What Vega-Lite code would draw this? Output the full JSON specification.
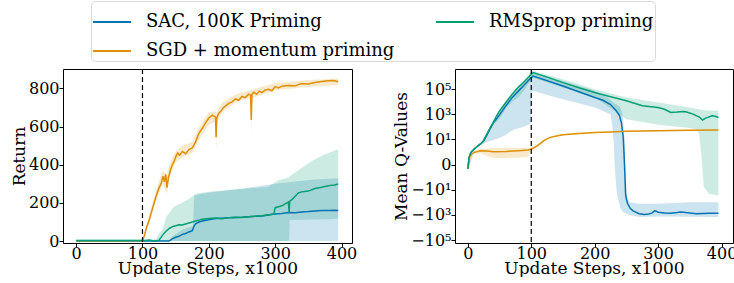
{
  "$schema": "https://vega.github.io/schema/vega-lite/v6.json",
  "padding": {"left": 9, "top": 0, "right": 0, "bottom": 0},
  "spacing": 34,
  "datasets": {
    "retLine": [
      {"s":"SAC, 100K Priming","x":0,"m":1},{"s":"SAC, 100K Priming","x":100,"m":1},{"s":"SAC, 100K Priming","x":140,"m":1},{"s":"SAC, 100K Priming","x":142,"m":5},{"s":"SAC, 100K Priming","x":145,"m":12},{"s":"SAC, 100K Priming","x":150,"m":20},{"s":"SAC, 100K Priming","x":155,"m":25},{"s":"SAC, 100K Priming","x":160,"m":35},{"s":"SAC, 100K Priming","x":165,"m":40},{"s":"SAC, 100K Priming","x":170,"m":48},{"s":"SAC, 100K Priming","x":175,"m":55},{"s":"SAC, 100K Priming","x":178,"m":80},{"s":"SAC, 100K Priming","x":180,"m":90},{"s":"SAC, 100K Priming","x":185,"m":100},{"s":"SAC, 100K Priming","x":190,"m":105},{"s":"SAC, 100K Priming","x":200,"m":112},{"s":"SAC, 100K Priming","x":210,"m":118},{"s":"SAC, 100K Priming","x":220,"m":120},{"s":"SAC, 100K Priming","x":230,"m":122},{"s":"SAC, 100K Priming","x":240,"m":124},{"s":"SAC, 100K Priming","x":250,"m":125},{"s":"SAC, 100K Priming","x":260,"m":127},{"s":"SAC, 100K Priming","x":270,"m":130},{"s":"SAC, 100K Priming","x":280,"m":132},{"s":"SAC, 100K Priming","x":290,"m":137},{"s":"SAC, 100K Priming","x":300,"m":142},{"s":"SAC, 100K Priming","x":310,"m":145},{"s":"SAC, 100K Priming","x":320,"m":150},{"s":"SAC, 100K Priming","x":330,"m":148},{"s":"SAC, 100K Priming","x":340,"m":153},{"s":"SAC, 100K Priming","x":350,"m":155},{"s":"SAC, 100K Priming","x":360,"m":158},{"s":"SAC, 100K Priming","x":370,"m":160},{"s":"SAC, 100K Priming","x":380,"m":160},{"s":"SAC, 100K Priming","x":390,"m":162},{"s":"SAC, 100K Priming","x":395,"m":160},
      {"s":"SGD + momentum priming","x":0,"m":2},{"s":"SGD + momentum priming","x":100,"m":2},{"s":"SGD + momentum priming","x":103,"m":30},{"s":"SGD + momentum priming","x":106,"m":70},{"s":"SGD + momentum priming","x":110,"m":110},{"s":"SGD + momentum priming","x":115,"m":170},{"s":"SGD + momentum priming","x":120,"m":230},{"s":"SGD + momentum priming","x":125,"m":280},{"s":"SGD + momentum priming","x":128,"m":300},{"s":"SGD + momentum priming","x":131,"m":340},{"s":"SGD + momentum priming","x":133,"m":310},{"s":"SGD + momentum priming","x":135,"m":350},{"s":"SGD + momentum priming","x":137,"m":280},{"s":"SGD + momentum priming","x":139,"m":330},{"s":"SGD + momentum priming","x":142,"m":370},{"s":"SGD + momentum priming","x":145,"m":400},{"s":"SGD + momentum priming","x":148,"m":420},{"s":"SGD + momentum priming","x":150,"m":440},{"s":"SGD + momentum priming","x":153,"m":462},{"s":"SGD + momentum priming","x":156,"m":450},{"s":"SGD + momentum priming","x":160,"m":470},{"s":"SGD + momentum priming","x":165,"m":458},{"s":"SGD + momentum priming","x":170,"m":480},{"s":"SGD + momentum priming","x":175,"m":488},{"s":"SGD + momentum priming","x":180,"m":520},{"s":"SGD + momentum priming","x":185,"m":565},{"s":"SGD + momentum priming","x":190,"m":590},{"s":"SGD + momentum priming","x":195,"m":620},{"s":"SGD + momentum priming","x":200,"m":645},{"s":"SGD + momentum priming","x":205,"m":660},{"s":"SGD + momentum priming","x":210,"m":650},{"s":"SGD + momentum priming","x":211,"m":545},{"s":"SGD + momentum priming","x":212,"m":645},{"s":"SGD + momentum priming","x":215,"m":670},{"s":"SGD + momentum priming","x":218,"m":680},{"s":"SGD + momentum priming","x":222,"m":700},{"s":"SGD + momentum priming","x":226,"m":710},{"s":"SGD + momentum priming","x":230,"m":722},{"s":"SGD + momentum priming","x":235,"m":730},{"s":"SGD + momentum priming","x":240,"m":745},{"s":"SGD + momentum priming","x":245,"m":738},{"s":"SGD + momentum priming","x":250,"m":758},{"s":"SGD + momentum priming","x":255,"m":752},{"s":"SGD + momentum priming","x":260,"m":770},{"s":"SGD + momentum priming","x":263,"m":765},{"s":"SGD + momentum priming","x":264,"m":635},{"s":"SGD + momentum priming","x":265,"m":770},{"s":"SGD + momentum priming","x":268,"m":780},{"s":"SGD + momentum priming","x":272,"m":770},{"s":"SGD + momentum priming","x":276,"m":786},{"s":"SGD + momentum priming","x":280,"m":778},{"s":"SGD + momentum priming","x":285,"m":792},{"s":"SGD + momentum priming","x":290,"m":796},{"s":"SGD + momentum priming","x":295,"m":788},{"s":"SGD + momentum priming","x":300,"m":810},{"s":"SGD + momentum priming","x":305,"m":803},{"s":"SGD + momentum priming","x":310,"m":812},{"s":"SGD + momentum priming","x":320,"m":815},{"s":"SGD + momentum priming","x":330,"m":814},{"s":"SGD + momentum priming","x":340,"m":826},{"s":"SGD + momentum priming","x":350,"m":823},{"s":"SGD + momentum priming","x":360,"m":831},{"s":"SGD + momentum priming","x":370,"m":836},{"s":"SGD + momentum priming","x":380,"m":840},{"s":"SGD + momentum priming","x":388,"m":842},{"s":"SGD + momentum priming","x":395,"m":835},
      {"s":"RMSprop priming","x":0,"m":3},{"s":"RMSprop priming","x":100,"m":3},{"s":"RMSprop priming","x":105,"m":3},{"s":"RMSprop priming","x":110,"m":6},{"s":"RMSprop priming","x":115,"m":2},{"s":"RMSprop priming","x":120,"m":1},{"s":"RMSprop priming","x":125,"m":5},{"s":"RMSprop priming","x":130,"m":30},{"s":"RMSprop priming","x":135,"m":50},{"s":"RMSprop priming","x":140,"m":65},{"s":"RMSprop priming","x":145,"m":75},{"s":"RMSprop priming","x":150,"m":80},{"s":"RMSprop priming","x":155,"m":86},{"s":"RMSprop priming","x":160,"m":84},{"s":"RMSprop priming","x":165,"m":90},{"s":"RMSprop priming","x":170,"m":95},{"s":"RMSprop priming","x":175,"m":100},{"s":"RMSprop priming","x":180,"m":105},{"s":"RMSprop priming","x":185,"m":110},{"s":"RMSprop priming","x":190,"m":115},{"s":"RMSprop priming","x":200,"m":118},{"s":"RMSprop priming","x":210,"m":121},{"s":"RMSprop priming","x":220,"m":117},{"s":"RMSprop priming","x":230,"m":123},{"s":"RMSprop priming","x":240,"m":125},{"s":"RMSprop priming","x":250,"m":124},{"s":"RMSprop priming","x":260,"m":128},{"s":"RMSprop priming","x":270,"m":130},{"s":"RMSprop priming","x":280,"m":133},{"s":"RMSprop priming","x":290,"m":138},{"s":"RMSprop priming","x":298,"m":142},{"s":"RMSprop priming","x":300,"m":175},{"s":"RMSprop priming","x":305,"m":180},{"s":"RMSprop priming","x":310,"m":185},{"s":"RMSprop priming","x":315,"m":195},{"s":"RMSprop priming","x":320,"m":205},{"s":"RMSprop priming","x":321,"m":150},{"s":"RMSprop priming","x":322,"m":210},{"s":"RMSprop priming","x":326,"m":220},{"s":"RMSprop priming","x":330,"m":235},{"s":"RMSprop priming","x":335,"m":252},{"s":"RMSprop priming","x":340,"m":258},{"s":"RMSprop priming","x":350,"m":262},{"s":"RMSprop priming","x":360,"m":276},{"s":"RMSprop priming","x":370,"m":282},{"s":"RMSprop priming","x":380,"m":290},{"s":"RMSprop priming","x":390,"m":294},{"s":"RMSprop priming","x":395,"m":300}
    ],
    "retBand": [
      {"g":"SAC, 100K Priming","x":0,"lo":0,"hi":3},{"g":"SAC, 100K Priming","x":140,"lo":0,"hi":3},{"g":"SAC, 100K Priming","x":145,"lo":0,"hi":25},{"g":"SAC, 100K Priming","x":160,"lo":0,"hi":60},{"g":"SAC, 100K Priming","x":176,"lo":0,"hi":80},{"g":"SAC, 100K Priming","x":178,"lo":0,"hi":240},{"g":"SAC, 100K Priming","x":200,"lo":0,"hi":255},{"g":"SAC, 100K Priming","x":250,"lo":0,"hi":275},{"g":"SAC, 100K Priming","x":300,"lo":0,"hi":300},{"g":"SAC, 100K Priming","x":350,"lo":0,"hi":320},{"g":"SAC, 100K Priming","x":395,"lo":0,"hi":330},
      {"g":"SGD + momentum priming","x":0,"lo":0,"hi":5},{"g":"SGD + momentum priming","x":100,"lo":0,"hi":5},{"g":"SGD + momentum priming","x":110,"lo":90,"hi":130},{"g":"SGD + momentum priming","x":120,"lo":200,"hi":260},{"g":"SGD + momentum priming","x":130,"lo":300,"hi":370},{"g":"SGD + momentum priming","x":137,"lo":250,"hi":340},{"g":"SGD + momentum priming","x":140,"lo":330,"hi":400},{"g":"SGD + momentum priming","x":150,"lo":410,"hi":470},{"g":"SGD + momentum priming","x":160,"lo":440,"hi":500},{"g":"SGD + momentum priming","x":175,"lo":460,"hi":520},{"g":"SGD + momentum priming","x":185,"lo":530,"hi":595},{"g":"SGD + momentum priming","x":200,"lo":610,"hi":675},{"g":"SGD + momentum priming","x":210,"lo":625,"hi":680},{"g":"SGD + momentum priming","x":211,"lo":470,"hi":670},{"g":"SGD + momentum priming","x":212,"lo":615,"hi":675},{"g":"SGD + momentum priming","x":220,"lo":675,"hi":725},{"g":"SGD + momentum priming","x":240,"lo":725,"hi":768},{"g":"SGD + momentum priming","x":250,"lo":740,"hi":780},{"g":"SGD + momentum priming","x":263,"lo":750,"hi":790},{"g":"SGD + momentum priming","x":264,"lo":560,"hi":790},{"g":"SGD + momentum priming","x":265,"lo":745,"hi":792},{"g":"SGD + momentum priming","x":270,"lo":755,"hi":798},{"g":"SGD + momentum priming","x":300,"lo":790,"hi":828},{"g":"SGD + momentum priming","x":350,"lo":808,"hi":845},{"g":"SGD + momentum priming","x":395,"lo":818,"hi":852},
      {"g":"RMSprop priming","x":0,"lo":0,"hi":8},{"g":"RMSprop priming","x":100,"lo":0,"hi":8},{"g":"RMSprop priming","x":120,"lo":0,"hi":10},{"g":"RMSprop priming","x":125,"lo":0,"hi":40},{"g":"RMSprop priming","x":130,"lo":0,"hi":60},{"g":"RMSprop priming","x":136,"lo":0,"hi":127},{"g":"RMSprop priming","x":147,"lo":0,"hi":180},{"g":"RMSprop priming","x":167,"lo":0,"hi":214},{"g":"RMSprop priming","x":182,"lo":0,"hi":249},{"g":"RMSprop priming","x":200,"lo":0,"hi":258},{"g":"RMSprop priming","x":250,"lo":0,"hi":275},{"g":"RMSprop priming","x":289,"lo":0,"hi":283},{"g":"RMSprop priming","x":304,"lo":0,"hi":318},{"g":"RMSprop priming","x":321,"lo":0,"hi":335},{"g":"RMSprop priming","x":322,"lo":110,"hi":340},{"g":"RMSprop priming","x":355,"lo":113,"hi":420},{"g":"RMSprop priming","x":375,"lo":115,"hi":455},{"g":"RMSprop priming","x":395,"lo":117,"hi":482}
    ],
    "qLine": [
      {"s":"SAC, 100K Priming","x":0,"m":-0.12},{"s":"SAC, 100K Priming","x":2,"m":0.28},{"s":"SAC, 100K Priming","x":5,"m":0.85},{"s":"SAC, 100K Priming","x":10,"m":1.65},{"s":"SAC, 100K Priming","x":15,"m":2.8},{"s":"SAC, 100K Priming","x":20,"m":4.3},{"s":"SAC, 100K Priming","x":25,"m":7.5},{"s":"SAC, 100K Priming","x":30,"m":22},{"s":"SAC, 100K Priming","x":35,"m":70},{"s":"SAC, 100K Priming","x":40,"m":200},{"s":"SAC, 100K Priming","x":50,"m":900},{"s":"SAC, 100K Priming","x":60,"m":4700},{"s":"SAC, 100K Priming","x":70,"m":22000},{"s":"SAC, 100K Priming","x":80,"m":73000},{"s":"SAC, 100K Priming","x":90,"m":250000},{"s":"SAC, 100K Priming","x":100,"m":830000},{"s":"SAC, 100K Priming","x":103,"m":1100000},{"s":"SAC, 100K Priming","x":150,"m":180000},{"s":"SAC, 100K Priming","x":200,"m":22000},{"s":"SAC, 100K Priming","x":213,"m":13000},{"s":"SAC, 100K Priming","x":225,"m":6000},{"s":"SAC, 100K Priming","x":234,"m":1900},{"s":"SAC, 100K Priming","x":239,"m":800},{"s":"SAC, 100K Priming","x":242,"m":225},{"s":"SAC, 100K Priming","x":245,"m":15},{"s":"SAC, 100K Priming","x":247,"m":0},{"s":"SAC, 100K Priming","x":248.7,"m":-21},{"s":"SAC, 100K Priming","x":250,"m":-60},{"s":"SAC, 100K Priming","x":252,"m":-130},{"s":"SAC, 100K Priming","x":256,"m":-300},{"s":"SAC, 100K Priming","x":260,"m":-450},{"s":"SAC, 100K Priming","x":270,"m":-800},{"s":"SAC, 100K Priming","x":278,"m":-920},{"s":"SAC, 100K Priming","x":285,"m":-850},{"s":"SAC, 100K Priming","x":290,"m":-720},{"s":"SAC, 100K Priming","x":295,"m":-450},{"s":"SAC, 100K Priming","x":300,"m":-600},{"s":"SAC, 100K Priming","x":310,"m":-700},{"s":"SAC, 100K Priming","x":320,"m":-720},{"s":"SAC, 100K Priming","x":330,"m":-650},{"s":"SAC, 100K Priming","x":335,"m":-580},{"s":"SAC, 100K Priming","x":340,"m":-600},{"s":"SAC, 100K Priming","x":350,"m":-700},{"s":"SAC, 100K Priming","x":360,"m":-800},{"s":"SAC, 100K Priming","x":370,"m":-780},{"s":"SAC, 100K Priming","x":380,"m":-750},{"s":"SAC, 100K Priming","x":395,"m":-720},
      {"s":"SGD + momentum priming","x":0,"m":-0.12},{"s":"SGD + momentum priming","x":3,"m":0.28},{"s":"SGD + momentum priming","x":6,"m":0.6},{"s":"SGD + momentum priming","x":10,"m":0.85},{"s":"SGD + momentum priming","x":20,"m":1.19},{"s":"SGD + momentum priming","x":30,"m":1.1},{"s":"SGD + momentum priming","x":40,"m":0.97},{"s":"SGD + momentum priming","x":60,"m":1.03},{"s":"SGD + momentum priming","x":80,"m":1.19},{"s":"SGD + momentum priming","x":95,"m":1.36},{"s":"SGD + momentum priming","x":100,"m":1.65},{"s":"SGD + momentum priming","x":105,"m":2.2},{"s":"SGD + momentum priming","x":110,"m":3.1},{"s":"SGD + momentum priming","x":115,"m":5},{"s":"SGD + momentum priming","x":120,"m":7.9},{"s":"SGD + momentum priming","x":125,"m":11},{"s":"SGD + momentum priming","x":130,"m":14.6},{"s":"SGD + momentum priming","x":140,"m":19},{"s":"SGD + momentum priming","x":150,"m":24},{"s":"SGD + momentum priming","x":175,"m":30},{"s":"SGD + momentum priming","x":200,"m":36},{"s":"SGD + momentum priming","x":225,"m":40},{"s":"SGD + momentum priming","x":250,"m":44},{"s":"SGD + momentum priming","x":275,"m":47},{"s":"SGD + momentum priming","x":300,"m":49.5},{"s":"SGD + momentum priming","x":350,"m":55},{"s":"SGD + momentum priming","x":395,"m":56},
      {"s":"RMSprop priming","x":0,"m":-0.12},{"s":"RMSprop priming","x":2,"m":0.28},{"s":"RMSprop priming","x":5,"m":0.85},{"s":"RMSprop priming","x":10,"m":1.65},{"s":"RMSprop priming","x":15,"m":2.8},{"s":"RMSprop priming","x":20,"m":4.3},{"s":"RMSprop priming","x":25,"m":7.9},{"s":"RMSprop priming","x":30,"m":27},{"s":"RMSprop priming","x":35,"m":80},{"s":"RMSprop priming","x":40,"m":225},{"s":"RMSprop priming","x":45,"m":700},{"s":"RMSprop priming","x":50,"m":1900},{"s":"RMSprop priming","x":55,"m":4000},{"s":"RMSprop priming","x":60,"m":8700},{"s":"RMSprop priming","x":65,"m":19000},{"s":"RMSprop priming","x":70,"m":40000},{"s":"RMSprop priming","x":75,"m":80000},{"s":"RMSprop priming","x":80,"m":150000},{"s":"RMSprop priming","x":85,"m":260000},{"s":"RMSprop priming","x":90,"m":450000},{"s":"RMSprop priming","x":95,"m":800000},{"s":"RMSprop priming","x":100,"m":1500000},{"s":"RMSprop priming","x":103,"m":2100000},{"s":"RMSprop priming","x":125,"m":900000},{"s":"RMSprop priming","x":150,"m":330000},{"s":"RMSprop priming","x":175,"m":130000},{"s":"RMSprop priming","x":200,"m":54000},{"s":"RMSprop priming","x":225,"m":25000},{"s":"RMSprop priming","x":250,"m":12000},{"s":"RMSprop priming","x":275,"m":4750},{"s":"RMSprop priming","x":300,"m":3500},{"s":"RMSprop priming","x":310,"m":2500},{"s":"RMSprop priming","x":320,"m":1400},{"s":"RMSprop priming","x":330,"m":1500},{"s":"RMSprop priming","x":340,"m":1700},{"s":"RMSprop priming","x":345,"m":1500},{"s":"RMSprop priming","x":355,"m":1040},{"s":"RMSprop priming","x":365,"m":600},{"s":"RMSprop priming","x":370,"m":350},{"s":"RMSprop priming","x":375,"m":500},{"s":"RMSprop priming","x":385,"m":765},{"s":"RMSprop priming","x":390,"m":700},{"s":"RMSprop priming","x":395,"m":560}
    ],
    "qBand": [
      {"g":"SAC, 100K Priming","x":0,"lo":-0.15,"hi":-0.1},{"g":"SAC, 100K Priming","x":10,"lo":1.4,"hi":1.9},{"g":"SAC, 100K Priming","x":20,"lo":3.5,"hi":5},{"g":"SAC, 100K Priming","x":30,"lo":5.8,"hi":30},{"g":"SAC, 100K Priming","x":40,"lo":9,"hi":250},{"g":"SAC, 100K Priming","x":50,"lo":13,"hi":2000},{"g":"SAC, 100K Priming","x":60,"lo":24,"hi":9000},{"g":"SAC, 100K Priming","x":68,"lo":44,"hi":30000},{"g":"SAC, 100K Priming","x":75,"lo":67,"hi":80000},{"g":"SAC, 100K Priming","x":85,"lo":90,"hi":260000},{"g":"SAC, 100K Priming","x":99,"lo":167,"hi":1500000},{"g":"SAC, 100K Priming","x":101,"lo":54000,"hi":2000000},{"g":"SAC, 100K Priming","x":103,"lo":70000,"hi":2100000},{"g":"SAC, 100K Priming","x":150,"lo":16000,"hi":450000},{"g":"SAC, 100K Priming","x":200,"lo":3500,"hi":73000},{"g":"SAC, 100K Priming","x":225,"lo":1000,"hi":15000},{"g":"SAC, 100K Priming","x":228,"lo":100,"hi":10000},{"g":"SAC, 100K Priming","x":230,"lo":4.3,"hi":8000},{"g":"SAC, 100K Priming","x":232,"lo":-0.2,"hi":7000},{"g":"SAC, 100K Priming","x":235,"lo":-21,"hi":6000},{"g":"SAC, 100K Priming","x":240,"lo":-242,"hi":4000},{"g":"SAC, 100K Priming","x":244,"lo":-500,"hi":1000},{"g":"SAC, 100K Priming","x":245,"lo":-600,"hi":300},{"g":"SAC, 100K Priming","x":247,"lo":-700,"hi":10},{"g":"SAC, 100K Priming","x":248,"lo":-750,"hi":0},{"g":"SAC, 100K Priming","x":250,"lo":-810,"hi":-21},{"g":"SAC, 100K Priming","x":255,"lo":-1000,"hi":-96},{"g":"SAC, 100K Priming","x":270,"lo":-1490,"hi":-130},{"g":"SAC, 100K Priming","x":300,"lo":-1300,"hi":-130},{"g":"SAC, 100K Priming","x":350,"lo":-1400,"hi":-96},{"g":"SAC, 100K Priming","x":395,"lo":-1490,"hi":-96},
      {"g":"SGD + momentum priming","x":0,"lo":-0.15,"hi":-0.1},{"g":"SGD + momentum priming","x":10,"lo":0.6,"hi":1.1},{"g":"SGD + momentum priming","x":20,"lo":0.7,"hi":1.6},{"g":"SGD + momentum priming","x":30,"lo":0.4,"hi":1.9},{"g":"SGD + momentum priming","x":40,"lo":0.24,"hi":2.0},{"g":"SGD + momentum priming","x":60,"lo":0.24,"hi":2.0},{"g":"SGD + momentum priming","x":80,"lo":0.26,"hi":2.0},{"g":"SGD + momentum priming","x":95,"lo":0.3,"hi":2.0},{"g":"SGD + momentum priming","x":100,"lo":1.2,"hi":2.2},{"g":"SGD + momentum priming","x":105,"lo":2.0,"hi":2.5},{"g":"SGD + momentum priming","x":110,"lo":2.8,"hi":3.4},{"g":"SGD + momentum priming","x":120,"lo":7,"hi":9},{"g":"SGD + momentum priming","x":130,"lo":13.5,"hi":16},{"g":"SGD + momentum priming","x":150,"lo":22,"hi":26},{"g":"SGD + momentum priming","x":200,"lo":34,"hi":38},{"g":"SGD + momentum priming","x":250,"lo":42,"hi":46},{"g":"SGD + momentum priming","x":300,"lo":47,"hi":52},{"g":"SGD + momentum priming","x":350,"lo":53,"hi":57},{"g":"SGD + momentum priming","x":395,"lo":54,"hi":58},
      {"g":"RMSprop priming","x":0,"lo":-0.15,"hi":-0.1},{"g":"RMSprop priming","x":10,"lo":1.4,"hi":1.9},{"g":"RMSprop priming","x":20,"lo":3.5,"hi":5},{"g":"RMSprop priming","x":30,"lo":15,"hi":35},{"g":"RMSprop priming","x":40,"lo":150,"hi":300},{"g":"RMSprop priming","x":50,"lo":418,"hi":2500},{"g":"RMSprop priming","x":60,"lo":3000,"hi":12000},{"g":"RMSprop priming","x":70,"lo":10000,"hi":50000},{"g":"RMSprop priming","x":80,"lo":22000,"hi":200000},{"g":"RMSprop priming","x":90,"lo":100000,"hi":600000},{"g":"RMSprop priming","x":100,"lo":620000,"hi":2500000},{"g":"RMSprop priming","x":103,"lo":800000,"hi":2800000},{"g":"RMSprop priming","x":150,"lo":130000,"hi":620000},{"g":"RMSprop priming","x":200,"lo":22000,"hi":100000},{"g":"RMSprop priming","x":250,"lo":400,"hi":22000},{"g":"RMSprop priming","x":300,"lo":150,"hi":8700},{"g":"RMSprop priming","x":350,"lo":80,"hi":3500},{"g":"RMSprop priming","x":362,"lo":60,"hi":2700},{"g":"RMSprop priming","x":365,"lo":20,"hi":2500},{"g":"RMSprop priming","x":368,"lo":0.6,"hi":2300},{"g":"RMSprop priming","x":372,"lo":-6,"hi":2100},{"g":"RMSprop priming","x":380,"lo":-21,"hi":2000},{"g":"RMSprop priming","x":395,"lo":-29,"hi":1900}
    ]
  },
  "hconcat": [
    {
      "width": 289, "height": 174,
      "layer": [
        {
          "data": {"name": "retBand"},
          "mark": {"type": "area", "opacity": 0.2},
          "encoding": {
            "x": {"field": "x", "type": "quantitative"},
            "y": {"field": "lo", "type": "quantitative"},
            "y2": {"field": "hi"},
            "fill": {"field": "g", "type": "nominal", "legend": null, "scale": {"range": ["#029e73", "#0173b2", "#de8f05"]}}
          }
        },
        {
          "data": {"name": "retLine"},
          "mark": {"type": "line", "strokeWidth": 1.5},
          "encoding": {
            "x": {"field": "x", "type": "quantitative", "scale": {"domain": [-19.8, 415.8], "nice": false, "zero": false}, "axis": {"values": [0, 100, 200, 300, 400], "title": "Update Steps, x1000"}},
            "y": {"field": "m", "type": "quantitative", "scale": {"domain": [-10, 902], "nice": false, "zero": false}, "axis": {"values": [0, 200, 400, 600, 800], "title": "Return"}},
            "color": {"field": "s", "type": "nominal", "scale": {"domain": ["SAC, 100K Priming", "RMSprop priming", "SGD + momentum priming"], "range": ["#0173b2", "#029e73", "#de8f05"]},
              "legend": {"orient": "none", "legendX": 28, "legendY": -68, "columns": 2, "direction": "horizontal", "title": null, "symbolType": "stroke", "symbolSize": 1444, "symbolStrokeWidth": 2, "labelFont": "DejaVu Serif", "labelFontSize": 18, "labelColor": "black", "labelLimit": 400, "labelOffset": 14, "fillColor": "white", "strokeColor": "#d9d9d9", "cornerRadius": 4, "padding": 1, "rowPadding": -2, "columnPadding": 37}}
          }
        },
        {
          "data": {"values": [{}]},
          "mark": {"type": "rule", "color": "black", "strokeDash": [5, 3], "strokeWidth": 1.2},
          "encoding": {"x": {"datum": 100}}
        }
      ]
    },
    {
      "width": 278, "height": 174,
      "layer": [
        {
          "data": {"name": "qBand"},
          "mark": {"type": "area", "opacity": 0.2},
          "encoding": {
            "x": {"field": "x", "type": "quantitative"},
            "y": {"field": "lo", "type": "quantitative"},
            "y2": {"field": "hi"},
            "fill": {"field": "g", "type": "nominal", "legend": null}
          }
        },
        {
          "data": {"name": "qLine"},
          "mark": {"type": "line", "strokeWidth": 1.5},
          "encoding": {
            "x": {"field": "x", "type": "quantitative", "scale": {"domain": [-20.2, 418], "nice": false, "zero": false}, "axis": {"values": [0, 100, 200, 300, 400], "title": "Update Steps, x1000"}},
            "y": {"field": "m", "type": "quantitative", "scale": {"type": "symlog", "constant": 0.1, "domain": [-170000, 4000000], "nice": false, "zero": false}, "axis": {"values": [-100000, -1000, -10, 0, 10, 1000, 100000], "tickCount": 20, "labelOverlap": false, "title": "Mean Q-Values", "labelExpr": "datum.value == 0 ? '0' : (datum.value < 0 ? '−' : '') + '10' + (abs(datum.value) == 100000 ? '⁵' : abs(datum.value) == 1000 ? '³' : '¹')"}},
            "color": {"field": "s", "type": "nominal"}
          }
        },
        {
          "data": {"values": [{}]},
          "mark": {"type": "rule", "color": "black", "strokeDash": [5, 3], "strokeWidth": 1.2},
          "encoding": {"x": {"datum": 100}}
        }
      ]
    }
  ],
  "config": {
    "view": {"stroke": "black", "strokeWidth": 1},
    "axis": {"grid": false, "domain": false, "tickColor": "black", "tickSize": 4, "labelFont": "DejaVu Serif", "labelFontSize": 16, "labelColor": "black", "labelPadding": 0, "titleFont": "DejaVu Serif", "titleFontSize": 17, "titleFontWeight": "normal", "titleColor": "black", "titlePadding": 0},
    "axisX": {"titlePadding": -1, "labelPadding": -2}
  }
}
